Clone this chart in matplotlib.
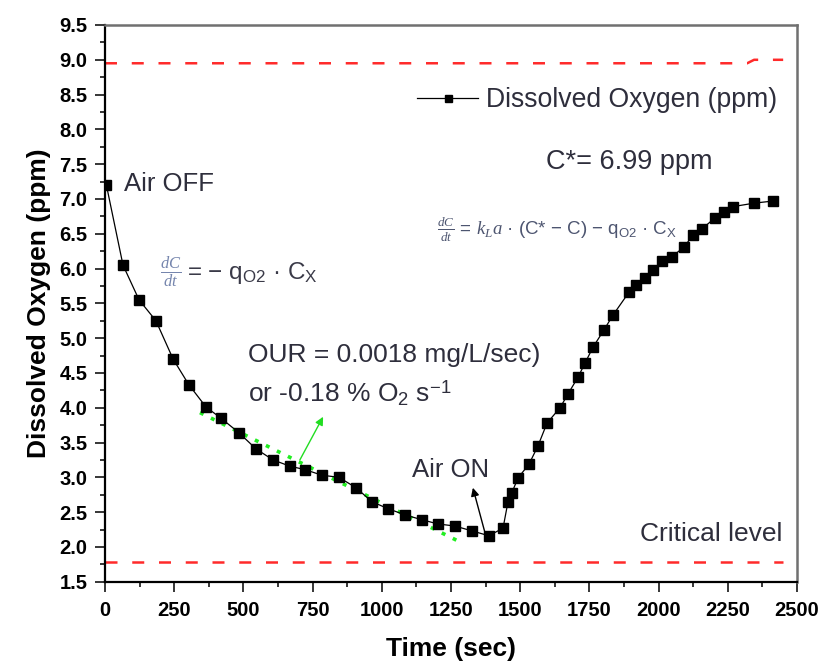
import matplotlib
matplotlib.use("Agg")
import matplotlib.pyplot as plt
from matplotlib.ticker import MultipleLocator

plt.rcParams['font.family'] = ['Liberation Sans', 'DejaVu Sans']
plt.rcParams['mathtext.fontset'] = 'custom'
plt.rcParams['mathtext.rm'] = 'Liberation Sans'
plt.rcParams['mathtext.it'] = 'Liberation Serif:italic'
plt.rcParams['mathtext.bf'] = 'Liberation Sans:bold'

# ---- data ----
time_s = [5, 65, 123, 184, 246, 303, 365, 419, 484, 545, 607, 668, 723, 784, 845,
          907, 964, 1022, 1084, 1145, 1203, 1264, 1326, 1387, 1438, 1456, 1470,
          1492, 1532, 1564, 1597, 1644, 1673, 1709, 1734, 1763, 1803, 1835, 1893,
          1918, 1951, 1980, 2012, 2048, 2092, 2124, 2157, 2204, 2236, 2269, 2345, 2413]
do_ppm = [7.20, 6.05, 5.55, 5.25, 4.70, 4.33, 4.01, 3.85, 3.64, 3.41, 3.25, 3.16,
          3.11, 3.03, 3.00, 2.85, 2.65, 2.55, 2.46, 2.39, 2.33, 2.30, 2.23, 2.16,
          2.27, 2.65, 2.78, 2.99, 3.19, 3.45, 3.78, 4.00, 4.20, 4.44, 4.64, 4.87,
          5.12, 5.33, 5.66, 5.76, 5.86, 5.98, 6.11, 6.17, 6.31, 6.48, 6.57, 6.73,
          6.81, 6.89, 6.94, 6.97]
fit_t = [343, 1283]
fit_do = [3.93, 2.07]
sat_t = [0, 2320, 2345, 2450]
sat_do = [8.95, 8.95, 9.00, 9.00]
crit_t = [0, 2450]
crit_do = [1.78, 1.78]

xticks = [0, 250, 500, 750, 1000, 1250, 1500, 1750, 2000, 2250, 2500]
yticks = [1.5, 2.0, 2.5, 3.0, 3.5, 4.0, 4.5, 5.0, 5.5, 6.0, 6.5, 7.0, 7.5, 8.0, 8.5, 9.0, 9.5]

# ---- figure ----
fig = plt.figure(figsize=(8.23, 6.66), dpi=100)
ax = fig.add_axes([105/823, 1-581.7/666, 692/823, 556.7/666])

red = '#ff2a2a'
ax.plot(sat_t, sat_do, color=red, lw=1.8, dashes=(4.8, 5.9))
ax.plot(crit_t, crit_do, color=red, lw=1.8, dashes=(4.8, 5.9))
ax.plot(fit_t, fit_do, color='#22ee22', lw=2.6, dashes=(1.1, 2.3))
ax.plot(time_s, do_ppm, color='black', lw=0.9, marker='s', markersize=7.2,
        markerfacecolor='black', markeredgecolor='black',
        label='Dissolved Oxygen (ppm)')

ax.set_xlim(0, 2500)
ax.set_ylim(1.5, 9.5)
ax.set_xticks(xticks)
ax.set_yticks(yticks)
ax.set_xticklabels([str(v) for v in xticks])
ax.set_yticklabels(['%.1f' % v for v in yticks])
ax.xaxis.set_minor_locator(MultipleLocator(125))
ax.yaxis.set_minor_locator(MultipleLocator(0.25))
ax.tick_params(which='major', direction='out', length=7.2, width=1.1,
               labelsize=14.5, top=False, right=False)
ax.tick_params(which='minor', direction='out', length=3.6, width=1.1,
               top=False, right=False)
ax.tick_params(axis='y', which='major', pad=5.5)
ax.tick_params(axis='x', which='major', pad=7)
for lab in ax.get_xticklabels() + ax.get_yticklabels():
    lab.set_fontweight('bold')

for s in ['left', 'bottom']:
    ax.spines[s].set_linewidth(1.6)
    ax.spines[s].set_color('black')
for s in ['top', 'right']:
    ax.spines[s].set_linewidth(1.8)
    ax.spines[s].set_color('#707070')

ax.set_xlabel('Time (sec)', fontsize=19, fontweight='bold', labelpad=12)
ax.set_ylabel('Dissolved Oxygen (ppm)', fontsize=19, fontweight='bold', labelpad=6)

leg = ax.legend(loc='center left', bbox_to_anchor=(0.451, 0.865), frameon=False,
                fontsize=19.2, handlelength=2.3, handletextpad=0.3,
                borderpad=0, borderaxespad=0, markerscale=0.7)
for t in leg.get_texts():
    t.set_color('#2e2e3c')

txt = '#2e2e3c'
ax.text(69, 7.22, 'Air OFF', fontsize=18.5, color=txt, va='center', ha='left')
ax.text(199, 5.94, r'$\frac{dC}{dt}$', fontsize=17, color='#7585ad', va='center', ha='left')
ax.text(297, 5.94, r'= − q$_\mathrm{O2}$ · C$_\mathrm{X}$', fontsize=17.5, color='#3a3a48',
        va='center', ha='left')
ax.text(517, 4.76, 'OUR = 0.0018 mg/L/sec)', fontsize=19, color=txt, va='center', ha='left')
ax.text(517, 4.21, r'or -0.18 % O$_\mathrm{2}$ s$^\mathrm{-1}$', fontsize=19, color=txt,
        va='center', ha='left')
ax.text(1109, 3.11, 'Air ON', fontsize=18.5, color=txt, va='center', ha='left')
ax.text(1933, 2.19, 'Critical level', fontsize=19, color=txt, va='center', ha='left')
ax.text(1593, 7.53, 'C*= 6.99 ppm', fontsize=19.5, color=txt, va='center', ha='left')
ax.text(1199, 6.55, r'$\frac{dC}{dt}$ = $k_L a$ · (C* − C) − q$_\mathrm{O2}$ · C$_\mathrm{X}$',
        fontsize=13.5, color='#4d5570', va='center', ha='left')

ax.annotate('', xy=(788, 3.87), xytext=(704, 3.25),
            arrowprops=dict(arrowstyle='-|>', color='#22dd22', lw=1.0,
                            mutation_scale=12, shrinkA=0, shrinkB=0))
ax.annotate('', xy=(1329, 2.85), xytext=(1373, 2.20),
            arrowprops=dict(arrowstyle='-|>', color='black', lw=1.0,
                            mutation_scale=12, shrinkA=0, shrinkB=0))

fig.savefig('out.png', dpi=100)
